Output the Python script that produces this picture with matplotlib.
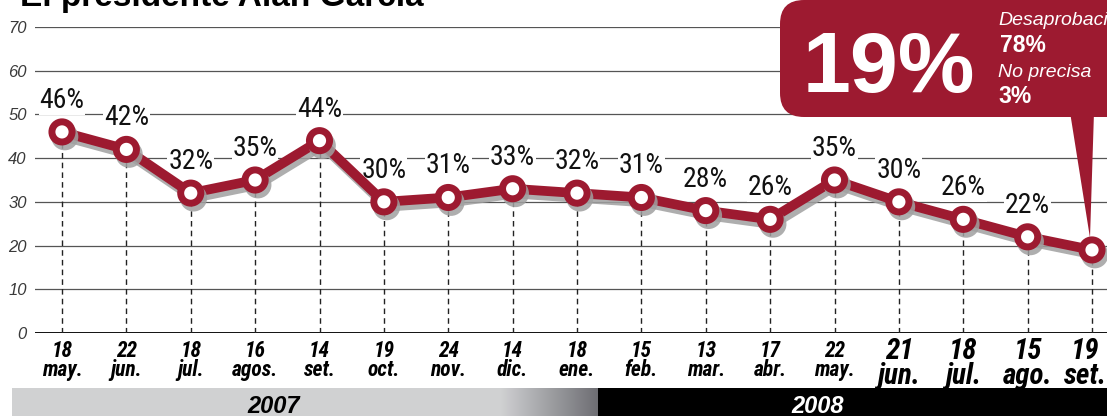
import numpy as np
import matplotlib
matplotlib.use('Agg')
import matplotlib.pyplot as plt
from matplotlib import font_manager
from matplotlib import patheffects as pe
from matplotlib.patches import FancyBboxPatch, Polygon

# ---------------- data ----------------
days = ['18', '22', '18', '16', '14', '19', '24', '14', '18', '15',
        '13', '17', '22', '21', '18', '15', '19']
months = ['may.', 'jun.', 'jul.', 'agos.', 'set.', 'oct.', 'nov.', 'dic.',
          'ene.', 'feb.', 'mar.', 'abr.', 'may.', 'jun.', 'jul.', 'ago.', 'set.']
approval = [46, 42, 32, 35, 44, 30, 31, 33, 32, 31, 28, 26, 35, 30, 26, 22, 19]
years = ['2007', '2008']
yticks = [0, 10, 20, 30, 40, 50, 60, 70]
disapproval = 78
no_precisa = 3
title = 'El presidente Alan García'

# ---------------- style ----------------
RED = '#9d1a30'
plt.rcParams['font.family'] = ['Liberation Sans', 'DejaVu Sans']
names = {f.name for f in font_manager.fontManager.ttflist}
cond = None
for cand in ['Liberation Sans Narrow', 'Roboto Condensed', 'Open Sans Condensed',
             'Noto Sans Condensed']:
    if cand in names:
        cond = cand
        break
if cond:
    tick_family = [cond, 'Liberation Sans']
    small_tick, big_tick = 15.5, 21
    lab_family, lab_size = [cond, 'Liberation Sans'], 20
else:
    tick_family = ['Liberation Sans']
    small_tick, big_tick = 12.5, 16
    lab_family, lab_size = ['Liberation Sans'], 15.5

W, H = 1107, 416
fig = plt.figure(figsize=(W / 100, H / 100), dpi=100)
fig.patch.set_facecolor('white')

ax = fig.add_axes([35 / W, 83 / H, 1072 / W, 306 / H])
n = len(approval)
x = np.arange(n)
step = 64.375
ax.set_xlim(-27 / step, (n - 1) + 15 / step)
ax.set_ylim(0, 70)
for s in ax.spines.values():
    s.set_visible(False)

ax.set_yticks(yticks)
ax.yaxis.grid(True, color='#555555', lw=0.9)
ax.set_axisbelow(True)
ax.axhline(0, color='black', lw=1.3, zorder=2)
ax.tick_params(axis='y', length=0, pad=6, labelsize=12, labelcolor='#3a3a3a')
for lbl in ax.get_yticklabels():
    lbl.set_style('italic')

# dashed drop lines
ax.vlines(x, 0, approval, colors='#222222', linestyles=(0, (4, 3)), lw=1, zorder=2)

# main line with shadow
ax.plot(x, approval, color=RED, lw=7, marker='o', ms=14.5, mfc='white',
        mec=RED, mew=5, zorder=4, solid_joinstyle='round',
        path_effects=[pe.SimpleLineShadow(offset=(2, -3.5), shadow_color='#a0a0a0', alpha=0.85),
                      pe.Normal()])

# value labels
for i in range(n - 1):
    ax.annotate(f'{approval[i]}%', (x[i], approval[i]), xytext=(0, 13),
                textcoords='offset points', ha='center', va='bottom',
                fontsize=lab_size, family=lab_family, color='#111111',
                bbox=dict(fc='white', ec='none', pad=0.5), zorder=3)

# x tick labels (drawn as annotations for placement control)
ax.set_xticks(x)
ax.set_xticklabels([])
ax.tick_params(axis='x', length=0)
for i in range(n):
    big = i >= n - 4
    dx_pt = -5 if i == n - 1 else 0
    ax.annotate(f'{days[i]}\n{months[i]}', xy=(x[i], 0),
                xycoords=('data', 'axes fraction'),
                xytext=(dx_pt, -3 if big else -5), textcoords='offset points',
                ha='center', va='top', family=tick_family, fontweight='bold',
                style='italic', linespacing=0.85,
                fontsize=big_tick if big else small_tick, color='black',
                annotation_clip=False)

# ---------------- bottom year bar ----------------
bar = fig.add_axes([0, 0, 1, 28 / H])
cols = np.ones((1, W, 3))
gray = np.array([0.816, 0.820, 0.827])
dark = np.array([0.43, 0.43, 0.45])
for px in range(W):
    if px < 12:
        c = np.array([1.0, 1.0, 1.0])
    elif px < 500:
        c = gray
    elif px < 598:
        t = (px - 500) / 98
        c = gray * (1 - t) + dark * t
    else:
        c = np.array([0.0, 0.0, 0.0])
    cols[0, px] = c
bar.imshow(cols, aspect='auto', extent=[0, W, 0, 1], interpolation='nearest')
bar.set_xlim(0, W)
bar.set_ylim(0, 1)
bar.axis('off')
bar.text(274, 0.1, years[0], ha='center', va='baseline', fontsize=17,
         fontweight='bold', style='italic', color='black')
bar.text(818, 0.1, years[1], ha='center', va='baseline', fontsize=17,
         fontweight='bold', style='italic', color='white')

# ---------------- overlay: title and callout ----------------
ov = fig.add_axes([0, 0, 1, 1], zorder=10)
ov.set_xlim(0, W)
ov.set_ylim(H, 0)
ov.axis('off')
ov.patch.set_alpha(0)

ov.text(20, 6, title, fontsize=24, fontweight='bold', ha='left', va='baseline', color='black')

box = FancyBboxPatch((780, 0), 420, 117, boxstyle='round,pad=0,rounding_size=24',
                     fc=RED, ec='none')
ov.add_patch(box)
fig.canvas.draw()
pdx, pdy = ax.transData.transform((x[-1], approval[-1]))
apex = (pdx - 2, H - pdy - 12)
ov.add_patch(Polygon([(1070, 112), (1094, 112), apex], closed=True, fc=RED, ec='none'))

ov.text(803, 92, f'{approval[-1]}%', fontsize=62, fontweight='bold', color='white',
        ha='left', va='baseline')
ov.text(998, 25, 'Desaprobación', fontsize=14, style='italic', color='white',
        ha='left', va='baseline')
ov.text(1000, 52, f'{disapproval}%', fontsize=16.5, fontweight='bold', color='white',
        ha='left', va='baseline')
ov.text(998, 77, 'No precisa', fontsize=14, style='italic', color='white',
        ha='left', va='baseline')
ov.text(998, 103, f'{no_precisa}%', fontsize=16.5, fontweight='bold', color='white',
        ha='left', va='baseline')

fig.savefig('out.png', dpi=100)
